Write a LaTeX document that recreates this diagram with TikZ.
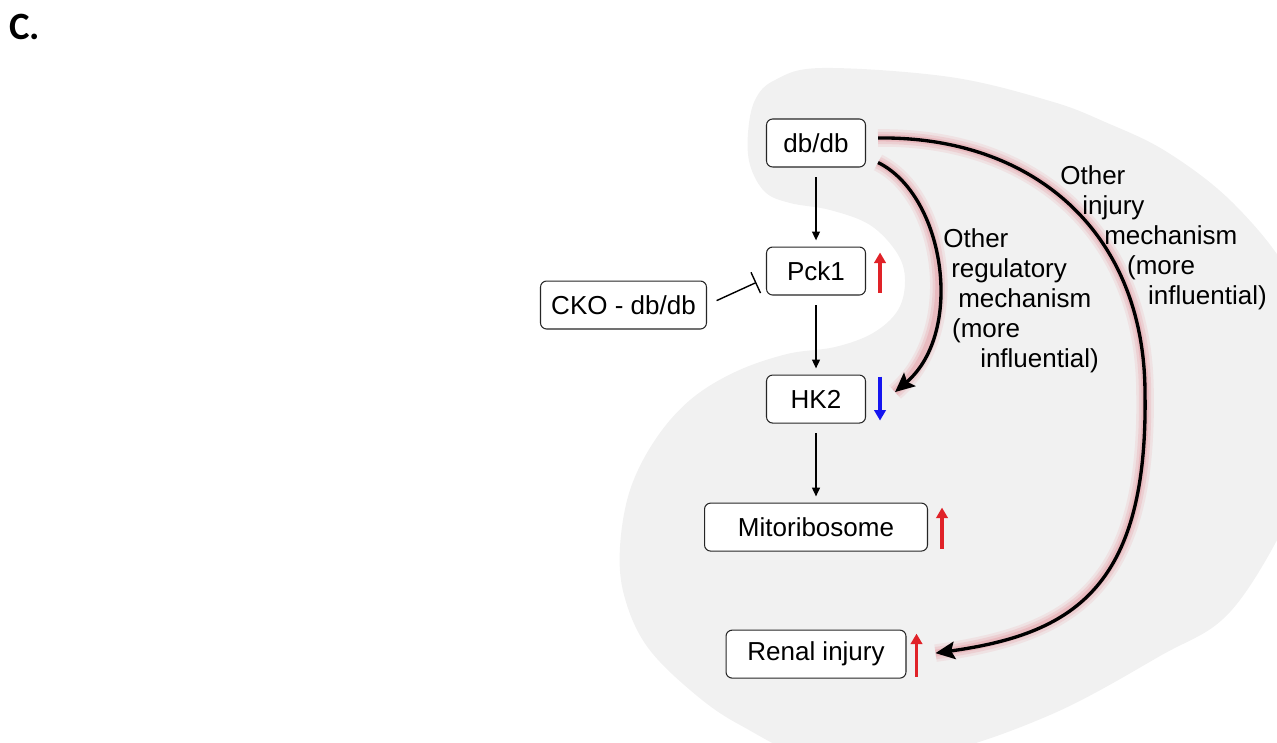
\documentclass[tikz,border=0pt]{standalone}
\usepackage{fontspec}
\setmainfont{Liberation Sans}
\newfontfamily\panelfont{Carlito}
\usetikzlibrary{positioning, arrows.meta}
\definecolor{bgshade}{HTML}{F1F1F1}
\definecolor{upred}{HTML}{E02228}
\definecolor{downblue}{HTML}{1515F0}
\definecolor{glowred}{HTML}{E0606E}
\tikzset{
  gene/.style={rectangle, rounded corners=3.5pt, draw=black!85, fill=white, line width=0.6pt, minimum width=1.98cm, minimum height=0.96cm, inner sep=2pt},
  flow/.style={-{Triangle[length=5pt,width=4.5pt]}, line width=0.8pt, shorten <=5.5pt, shorten >=3.5pt},
  inhibit/.style={-{Bar[width=13pt]}, line width=0.8pt, shorten <=6pt, shorten >=6pt},
  upreg/.style={-{Triangle[length=6pt,width=6.5pt]}, line width=2.2pt, draw=upred},
  downreg/.style={upreg, draw=downblue},
  bigflow/.style={-{Stealth[length=11pt,width=10pt,inset=2pt]}, line width=1.9pt},
  glow/.style={preaction={draw=glowred, arrows=-, line width=10pt, draw opacity=0.10},
               preaction={draw=glowred, arrows=-, line width=7pt, draw opacity=0.14},
               preaction={draw=glowred, arrows=-, line width=4pt, draw opacity=0.18}},
  note/.style={align=left, inner sep=0pt, anchor=base west}
}

\begin{document}
\begin{tikzpicture}[x=0.02cm, y=-0.02cm, font=\fontsize{14.8pt}{17pt}\selectfont]
\useasboundingbox (0,0) rectangle (1277,743);
% shaded background
\begin{scope}
  \clip (0,0) rectangle (1277,743);
  \fill[bgshade] plot[smooth cycle, tension=0.6] coordinates {(775,80) (822,68) (950,77) (1050,101) (1105,122) (1167,152) (1233,203) (1290,275) (1318,360) (1316,440) (1290,515) (1230,612) (1160,656) (1050,715) (930,755) (820,760) (740,725) (690,690) (646,645) (624,595) (620,547) (630,490) (655,440) (690,400) (735,372) (787,354) (835,347) (873,333) (898,310) (905,280) (897,253) (870,225) (830,210) (790,203) (765,192) (750,165) (748,133) (755,100)};
\end{scope}

\node[anchor=base west, inner sep=0pt, font={\panelfont\bfseries\fontsize{22pt}{26pt}\selectfont}] (panel) at (9,40) {C.};

\node[gene] (dbdb) at (816,143) {db/db};
\node[gene, below=1.58cm of dbdb] (pck1) {Pck1};
\node[gene, below=1.58cm of pck1] (hk2) {HK2};
\node[gene, minimum width=4.46cm, below=1.58cm of hk2] (mito) {Mitoribosome};
\node[gene, minimum width=3.6cm, below=1.56cm of mito] (renal) {Renal injury};
\node[gene, minimum width=3.32cm, left=1.18cm of pck1, yshift=-0.68cm] (cko) {CKO - db/db};

\draw[flow] (dbdb) -- (pck1);
\draw[flow] (pck1) -- (hk2);
\draw[flow] (hk2) -- (mito);
\draw[inhibit] (cko.east) -- ([yshift=-0.14cm]pck1.west);

% up / down marks
\draw[upreg] ([shift={(14,-3)}]pck1.south east) -- ([shift={(14,6)}]pck1.north east);
\draw[downreg] ([shift={(14,2)}]hk2.north east) -- ([shift={(14,-3)}]hk2.south east);
\draw[upreg] ([shift={(14,-3)}]mito.south east) -- ([shift={(14,5)}]mito.north east);
\draw[upreg] ([shift={(10,-2)}]renal.south east) -- ([shift={(10,4)}]renal.north east);

% other mechanisms
\coordinate (farside) at (1145,394);
\draw[bigflow, glow] ([shift={(12,-5)}]dbdb.south east) .. controls +(67,33) and +(70,-60) .. ([shift={(29,-7)}]hk2.east);
\draw[bigflow, glow] ([shift={(12,-5)}]dbdb.east) .. controls +(155,-2) and +(0,-162) .. (farside)
  .. controls +(3,196) and +(135,-19) .. ([shift={(29,-1)}]renal.east);

\node[note] (regnote) at (943,367) {Other\\\hspace*{4.5pt}regulatory\\\hspace*{8.5pt}mechanism\\\hspace*{5pt}(more\\\hspace*{21pt}influential)};
\node[note] (injnote) at (1060,304) {Other\\\hspace*{12.5pt}injury\\\hspace*{25pt}mechanism\\\hspace*{38pt}(more\\\hspace*{50pt}influential)};
\end{tikzpicture}
\end{document}
